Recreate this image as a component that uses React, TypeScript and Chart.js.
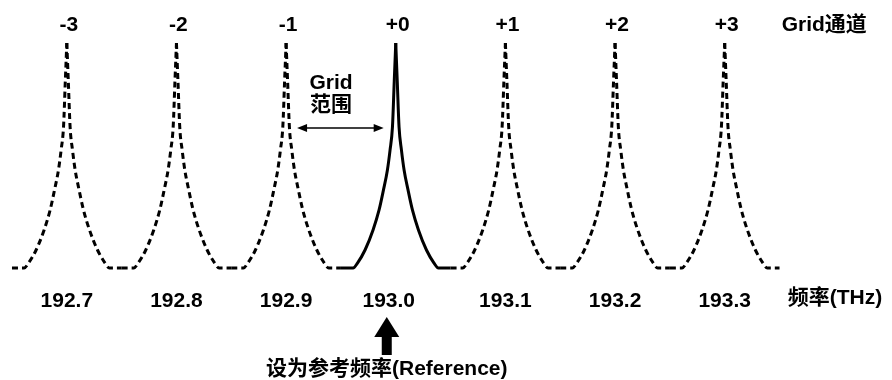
import React, { useEffect, useRef } from "react";
import { Chart, registerables } from "chart.js";

Chart.register(...registerables);

// ---- data ----
const channels = [-3, -2, -1, 0, 1, 2, 3];
const channelLabels = ["-3", "-2", "-1", "+0", "+1", "+2", "+3"];
const freqLabels = ["192.7", "192.8", "192.9", "193.0", "193.1", "193.2", "193.3"];
const referenceChannel = 0;
// one-sided peak profile: offset from channel centre (in channel spacings) and relative level
const profileOffset = [0, 0.0137, 0.03, 0.052, 0.076, 0.112, 0.152, 0.207, 0.28, 0.349, 0.389, 0.5];
const profileLevel = [1, 0.83, 0.627, 0.524, 0.436, 0.347, 0.258, 0.169, 0.08, 0.022, 0, 0];

const channelAxisTitle = "Grid通道";
const freqAxisTitle = "频率(THz)";
const gridRangeLabel = ["Grid", "范围"];
const referenceLabel = "设为参考频率(Reference)";

const FONT = 'bold 21px "Liberation Sans", Arial, "Noto Sans CJK SC", sans-serif';

function halfPeak(center: number, side: -1 | 1) {
  const pts: { x: number; y: number }[] = [];
  if (side < 0) {
    for (let i = profileOffset.length - 1; i >= 0; i--) pts.push({ x: center - profileOffset[i], y: profileLevel[i] });
  } else {
    for (let i = 0; i < profileOffset.length; i++) pts.push({ x: center + profileOffset[i], y: profileLevel[i] });
  }
  return pts;
}

const annotations = {
  id: "annotations",
  afterDraw(chart: any) {
    const ctx = chart.ctx as CanvasRenderingContext2D;
    const xs = chart.scales.x;
    const ys = chart.scales.y;
    const px = (v: number) => xs.getPixelForValue(v);
    const unit = px(1) - px(0);
    const top = ys.getPixelForValue(1);
    const base = ys.getPixelForValue(0);
    ctx.save();
    ctx.fillStyle = "#000";
    ctx.strokeStyle = "#000";
    ctx.font = FONT;
    ctx.textBaseline = "middle";
    ctx.textAlign = "center";
    // channel numbers
    channels.forEach((c, i) => ctx.fillText(channelLabels[i], px(c) + 2, top - 18));
    // frequency labels
    channels.forEach((c, i) => {
      const shift = c === referenceChannel ? -7 : 0;
      ctx.fillText(freqLabels[i], px(c) + shift, base + 33);
    });
    ctx.textAlign = "left";
    ctx.fillText(channelAxisTitle, px(3) + 57, top - 18);
    ctx.fillText(freqAxisTitle, px(3) + 63, base + 30);

    // grid range annotation
    const gx = px(referenceChannel - 0.59);
    ctx.textAlign = "center";
    ctx.fillText(gridRangeLabel[0], gx, top + 40);
    ctx.fillText(gridRangeLabel[1], gx, top + 62);
    const ay = top + 85;
    const ax1 = px(referenceChannel - 1) + 0.1 * unit;
    const ax2 = px(referenceChannel) - 0.11 * unit;
    ctx.lineWidth = 1.5;
    ctx.beginPath();
    ctx.moveTo(ax1 + 4, ay);
    ctx.lineTo(ax2 - 4, ay);
    ctx.stroke();
    ctx.beginPath();
    ctx.moveTo(ax1, ay);
    ctx.lineTo(ax1 + 10, ay - 4);
    ctx.lineTo(ax1 + 10, ay + 4);
    ctx.closePath();
    ctx.fill();
    ctx.beginPath();
    ctx.moveTo(ax2, ay);
    ctx.lineTo(ax2 - 10, ay - 4);
    ctx.lineTo(ax2 - 10, ay + 4);
    ctx.closePath();
    ctx.fill();

    // reference arrow
    const rx = px(referenceChannel) - 9;
    const tip = base + 49;
    ctx.beginPath();
    ctx.moveTo(rx, tip);
    ctx.lineTo(rx + 12.5, tip + 20);
    ctx.lineTo(rx + 5, tip + 20);
    ctx.lineTo(rx + 5, tip + 38);
    ctx.lineTo(rx - 5, tip + 38);
    ctx.lineTo(rx - 5, tip + 20);
    ctx.lineTo(rx - 12.5, tip + 20);
    ctx.closePath();
    ctx.fill();
    ctx.textAlign = "center";
    ctx.fillText(referenceLabel, rx, base + 101);
    ctx.restore();
  },
};

export default function App() {
  const ref = useRef<HTMLCanvasElement>(null);
  useEffect(() => {
    if (!ref.current) return;
    const datasets: any[] = [];
    channels.forEach((c) => {
      ([-1, 1] as const).forEach((side) => {
        datasets.push({
          data: halfPeak(c, side),
          borderColor: "#000",
          borderWidth: 3,
          borderDash: c === referenceChannel ? [] : [6, 4],
          pointRadius: 0,
          cubicInterpolationMode: "monotone",
          fill: false,
          clip: false,
        });
      });
    });
    const chart = new Chart(ref.current, {
      type: "line",
      data: { datasets },
      options: {
        animation: false,
        responsive: false,
        devicePixelRatio: 1,
        layout: { padding: { left: 6.5, right: 107, top: 43, bottom: 112 } },
        plugins: { legend: { display: false }, tooltip: { enabled: false }, title: { display: false } },
        scales: {
          x: { type: "linear", min: -3.55, max: 3.55, display: false },
          y: { type: "linear", min: 0, max: 1, display: false },
        },
      },
      plugins: [annotations],
    });
    return () => chart.destroy();
  }, []);
  return (
    <div style={{ position: "fixed", left: 0, top: 0, width: 892, height: 380, background: "#fff" }}>
      <canvas ref={ref} width={892} height={380} />
    </div>
  );
}
